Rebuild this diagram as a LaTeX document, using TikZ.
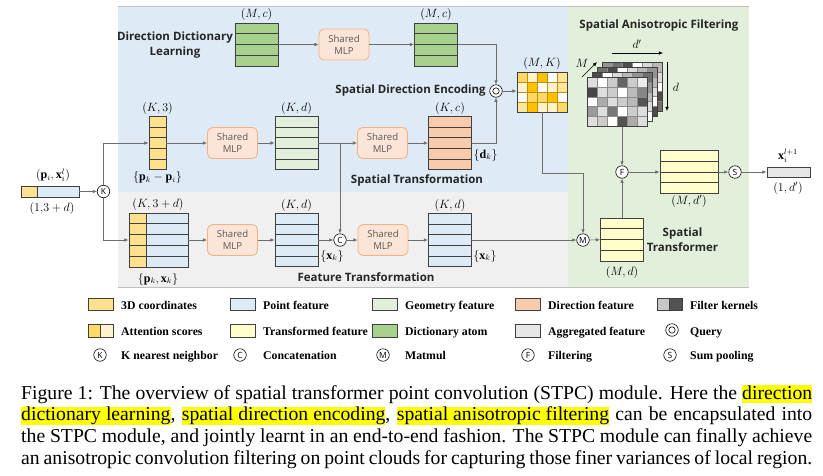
\documentclass[tikz,border=0pt]{standalone}
\usepackage{fontspec}
\setmainfont{Liberation Serif}
\newfontfamily\boxfont{Open Sans}
\usetikzlibrary{positioning, arrows.meta, calc}

\definecolor{bgblue}{HTML}{DEEAF6}
\definecolor{bggray}{HTML}{F0F0F0}
\definecolor{bggreen}{HTML}{E2EFDA}
\definecolor{framegray}{HTML}{BFBFBF}
\definecolor{coordcol}{HTML}{FFE08C}
\definecolor{pointcol}{HTML}{DDEBF7}
\definecolor{geocol}{HTML}{E2EFDA}
\definecolor{dircol}{HTML}{F8CBAD}
\definecolor{atomcol}{HTML}{A9D18E}
\definecolor{transcol}{HTML}{FFFFCC}
\definecolor{aggcol}{HTML}{E7E6E6}
\definecolor{attA}{HTML}{FFC000}
\definecolor{attB}{HTML}{FFD966}
\definecolor{attC}{HTML}{FFE699}
\definecolor{attD}{HTML}{FFF2CC}
\definecolor{attline}{HTML}{BF9000}
\definecolor{mlpfill}{HTML}{FCE4D6}
\definecolor{mlpline}{HTML}{F4B183}
\definecolor{mlptext}{HTML}{595959}
\definecolor{matline}{HTML}{404040}
\definecolor{gridline}{HTML}{8C8C8C}
\definecolor{arrowgray}{HTML}{6E6E6E}
\definecolor{titletext}{HTML}{262626}
\definecolor{hilite}{HTML}{FFFF00}

\newcommand{\hlt}[1]{{\setlength{\fboxsep}{0pt}\colorbox{hilite}{\rule[-3.6pt]{0pt}{16.8pt}#1}}}

\begin{document}
\begin{tikzpicture}[x=1pt, y=-1pt,
  conn/.style={draw=arrowgray, line width=0.7pt, -{Latex[length=4.2pt, width=3.6pt]}},
  feat/.style={draw=matline, line width=0.9pt, fill=#1, inner sep=0pt},
  rows/.style={path picture={
      \foreach \rw in {1,...,#1}
        \draw[matline, line width=0.9pt]
          ($(path picture bounding box.north west)!\rw/#1!(path picture bounding box.south west)$) --
          ($(path picture bounding box.north east)!\rw/#1!(path picture bounding box.south east)$);}},
  kmat/.style={feat=#1, rows=5, minimum width=43pt, minimum height=53.5pt},
  mmat/.style={feat=#1, rows=4, minimum width=43pt, minimum height=43pt},
  mlp/.style={draw=mlpline, fill=mlpfill, line width=0.8pt, rounded corners=5pt,
      minimum width=50pt, minimum height=31pt, inner sep=0pt, align=center,
      text=mlptext, font=\boxfont\fontsize{9.6}{12}\selectfont},
  op/.style={circle, draw=black, line width=0.6pt, fill=white, minimum size=12.5pt,
      inner sep=0pt, font=\boxfont\fontsize{8.5}{9}\selectfont},
  dims/.style={inner sep=1.5pt, font=\fontsize{12}{13}\selectfont},
  stage/.style={inner sep=0pt, align=center, text=titletext,
      font=\boxfont\bfseries\fontsize{11.5}{15}\selectfont},
  swatch/.style={draw=matline, line width=0.7pt, fill=#1, minimum width=25pt,
      minimum height=12.5pt, inner sep=0pt},
  keytext/.style={anchor=base west, inner sep=0pt, font=\bfseries\fontsize{11.8}{14}\selectfont},
]
\fill[white] (0,0) rectangle (823,475);
\useasboundingbox (0,0) rectangle (823,475);

% background regions
\fill[bgblue] (118,6) rectangle (568,192);
\fill[bggray] (118,192) rectangle (568,287);
\fill[bggreen] (568,6) rectangle (749,287);
\draw[framegray, line width=0.8pt] (118,6) -- (749,6) (118,287) -- (749,287);

% direction dictionary learning
\node[stage] (ddltitle) at (175,45.5) {Direction Dictionary\\Learning};
\node[mmat=atomcol] (atom1) at (256.5,44.5) {};
\node[mlp] (mlp1) at (344,44.5) {Shared\\MLP};
\node[mmat=atomcol] (atom2) at (436,44.5) {};
\node[dims, above=0pt of atom1] (atom1dim) {$(M,c)$};
\node[dims, above=0pt of atom2] (atom2dim) {$(M,c)$};

% spatial direction encoding
\node[op] (query) at (496,91) {};
\draw[black, line width=0.6pt] (query.center) circle (3.2pt);
\node[stage, left=3.5pt of query] (sdetitle) {Spatial Direction Encoding};
\foreach \row [count=\j from 0] in {{attB,attD,attA,white,attC},{attD,attA,white,attD,attC},
    {white,attB,attB,attA,white},{attC,attA,attD,attD,attB}}
  \foreach \c [count=\i from 0] in \row
    \draw[draw=attline, fill=\c, line width=0.7pt] (517+\i*10, 72+\j*10) rectangle ++(10,10);
\node[draw=matline, line width=0.9pt, minimum width=50pt, minimum height=40pt, inner sep=0pt] (att) at (542,92) {};
\node[dims, above=0pt of att] (attdim) {$(M,K)$};

% spatial transformation
\node[feat=coordcol, rows=5, minimum width=17pt, minimum height=53.5pt] (rel) at (157.5,143) {};
\node[mlp] (mlp2) at (232.5,143) {Shared\\MLP};
\node[kmat=geocol] (geo) at (296.5,143) {};
\node[mlp] (mlp3) at (382.5,143) {Shared\\MLP};
\node[kmat=dircol] (dir) at (450,143) {};
\node[dims, above=0pt of rel] (reldim) {$(K,3)$};
\node[dims, below=0pt of rel] (relset) {$\{\mathbf{p}_k-\mathbf{p}_i\}$};
\node[dims, above=0pt of geo] (geodim) {$(K,d)$};
\node[dims, above=0pt of dir] (dirdim) {$(K,c)$};
\node[dims, anchor=west] (dirset) at (472,155) {$\{\mathbf{d}_k\}$};
\node[stage] (sttitle) at (417,180) {Spatial Transformation};

% input point and grouping
\node[feat=coordcol, minimum width=16pt, minimum height=11pt] (incoord) at (29,191.5) {};
\node[feat=pointcol, minimum width=42pt, minimum height=11pt] (infeat) at (58,191.5) {};
\node[dims, inner sep=0pt] (indim) at (53,175.5) {$(\mathbf{p}_i,\mathbf{x}_i^l)$};
\node[dims] (insize) at (52,208.5) {$(1{,}3+d)$};
\node[op] (knn) at (103.5,191.5) {K};

% feature transformation
\node[feat=coordcol, rows=5, minimum width=17pt, minimum height=54pt] (grpcoord) at (137.5,240) {};
\node[feat=pointcol, rows=5, minimum width=42pt, minimum height=54pt] (grpfeat) at (167,240) {};
\node[dims] (grpdim) at (158,204) {$(K,3+d)$};
\node[dims] (grpset) at (158,279) {$\{\mathbf{p}_k,\mathbf{x}_k\}$};
\node[mlp] (mlp4) at (232.5,240) {Shared\\MLP};
\node[kmat=pointcol] (pf1) at (296.5,240) {};
\node[op] (cat) at (340,240) {C};
\node[mlp] (mlp5) at (383,240) {Shared\\MLP};
\node[kmat=pointcol] (pf2) at (450,240) {};
\node[dims, above=0pt of pf1] (pf1dim) {$(K,d)$};
\node[dims, above=0pt of pf2] (pf2dim) {$(K,d)$};
\node[dims] (pf1set) at (332,256) {$\{\mathbf{x}_k\}$};
\node[dims] (pf2set) at (485,256) {$\{\mathbf{x}_k\}$};
\node[stage] (fttitle) at (366,277) {Feature Transformation};

% spatial anisotropic filtering
\node[stage] (saftitle) at (659,26) {Spatial Anisotropic Filtering};
\foreach \k in {3,2,1} {
  \foreach \j in {0,...,4} {
    \foreach \i in {0,...,5} {
      \pgfmathtruncatemacro\shade{mod(7*\i+11*\j+5*\k,6)*14}
      \draw[draw=gridline, fill=black!\shade, line width=0.5pt]
        (587+5*\k+\i*10, 77-5*\k+\j*9.9) rectangle ++(10,9.9);
    }
  }
  \draw[matline, line width=0.8pt] (587+5*\k, 77-5*\k) rectangle ++(60,49.5);
}
\foreach \row [count=\j from 0] in {{13,0,20,60,20,7},{73,13,20,0,27,47},{0,33,13,20,27,67},
    {40,13,53,0,20,13},{13,20,0,67,33,13}}
  \foreach \v [count=\i from 0] in \row
    \draw[draw=gridline, fill=black!\v, line width=0.5pt] (587+\i*10, 77+\j*9.9) rectangle ++(10,9.9);
\node[draw=matline, line width=0.8pt, minimum width=60pt, minimum height=49.5pt, inner sep=0pt] (fk) at (617,101.75) {};
\coordinate (dpstart) at (612,53);
\coordinate (dpend) at (663,53);
\coordinate (dstart) at (667,62);
\coordinate (dend) at (667,111);
\coordinate (mstart) at (582,77);
\coordinate (mend) at (597,62);
\draw[conn, draw=black, line width=0.6pt] (dpstart) -- (dpend);
\draw[conn, draw=black, line width=0.6pt] (dstart) -- (dend);
\draw[conn, draw=black, line width=0.6pt] (mstart) -- (mend);
\node[dims] (dplabel) at (637,44) {$d'$};
\node[dims] (dlabel) at (676,87) {$d$};
\node[dims] (mlabel) at (582,63) {$M$};

\node[op] (flt) at (622,172) {F};
\node[op] (mm) at (583,240) {M};
\node[mmat=transcol] (tf) at (622,239.5) {};
\node[dims] (tfdim) at (622,272) {$(M,d)$};
\node[stage] (sttf) at (682.5,239.5) {Spatial\\Transformer};
\node[feat=transcol, rows=4, minimum width=58pt, minimum height=43pt] (tf2) at (689,172) {};
\node[dims] (tf2dim) at (689,201) {$(M,d')$};
\node[op] (sum) at (735,172) {S};
\node[feat=aggcol, minimum width=43pt, minimum height=10pt] (out) at (788.5,172) {};
\node[dims, inner sep=0pt] (outname) at (788,155.5) {$\mathbf{x}_i^{l+1}$};
\node[dims] (outsize) at (788,188) {$(1,d')$};

% connections
\coordinate (attbend) at (583,173);
\draw[conn] (atom1) -- (mlp1);
\draw[conn] (mlp1) -- (atom2);
\draw[conn] (atom2.east) -| (query.north);
\draw[conn] (dir.east) -| (query.south);
\draw[conn] (query) -- (query -| att.west);
\draw[conn] (att.south) |- (attbend) -- (mm.north);
\draw[conn] (infeat) -- (knn);
\draw[conn] (knn.north) |- (rel.west);
\draw[conn] (rel) -- (mlp2);
\draw[conn] (mlp2) -- (geo);
\draw[conn] (geo) -- (mlp3);
\draw[conn] (mlp3) -- (dir);
\draw[conn] (cat |- geo.east) -- (cat.north);
\draw[conn] (knn.south) |- (grpcoord.west);
\draw[conn] (grpfeat) -- (mlp4);
\draw[conn] (mlp4) -- (pf1);
\draw[conn] (pf1) -- (cat);
\draw[conn] (cat) -- (mlp5);
\draw[conn] (mlp5) -- (pf2);
\draw[conn] (pf2) -- (mm);
\draw[conn] (mm) -- (tf);
\draw[conn] (tf) -- (flt);
\draw[conn] (fk.south -| flt) -- (flt);
\draw[conn] (flt) -- (tf2);
\draw[conn] (tf2) -- (sum);
\draw[conn] (sum) -- (out);

% legend
\node[swatch=coordcol] (keycoord) at (100.5,304.5) {};
\node[keytext] (keycoordtext) at (121,309) {3D coordinates};
\node[swatch=pointcol] (keypoint) at (243,304.5) {};
\node[keytext] (keypointtext) at (263,309) {Point feature};
\node[swatch=geocol] (keygeo) at (385,304.5) {};
\node[keytext] (keygeotext) at (405,309) {Geometry feature};
\node[swatch=dircol] (keydir) at (527.5,304.5) {};
\node[keytext] (keydirtext) at (548,309) {Direction feature};
\node[swatch=black!22, minimum width=12.5pt] (keyfkA) at (663.25,304.5) {};
\node[swatch=black!68, minimum width=12.5pt] (keyfkB) at (675.75,304.5) {};
\node[keytext] (keyfktext) at (690,309) {Filter kernels};

\node[swatch=attB, minimum width=12.5pt] (keyattA) at (94.25,331) {};
\node[swatch=attD, minimum width=12.5pt] (keyattB) at (106.75,331) {};
\node[keytext] (keyatttext) at (121,335) {Attention scores};
\node[swatch=transcol] (keytrans) at (243,331) {};
\node[keytext] (keytranstext) at (263,335) {Transformed feature};
\node[swatch=atomcol] (keyatom) at (385,331) {};
\node[keytext] (keyatomtext) at (405,335) {Dictionary atom};
\node[swatch=aggcol] (keyagg) at (527.5,331) {};
\node[keytext] (keyaggtext) at (548,335) {Aggregated feature};
\node[op] (keyquery) at (672,330) {};
\draw[black, line width=0.6pt] (keyquery.center) circle (3.2pt);
\node[keytext] (keyquerytext) at (690,335) {Query};

\node[op] (keyknn) at (100,355) {K};
\node[keytext] (keyknntext) at (121,359) {K nearest neighbor};
\node[op] (keycat) at (240,355) {C};
\node[keytext] (keycattext) at (263,359) {Concatenation};
\node[op] (keymm) at (383,355) {M};
\node[keytext] (keymmtext) at (405,359) {Matmul};
\node[op] (keyflt) at (528,355) {F};
\node[keytext] (keyflttext) at (548,359) {Filtering};
\node[op] (keysum) at (670,355) {S};
\node[keytext] (keysumtext) at (690,359) {Sum pooling};

% caption
\node[anchor=north west, inner sep=0pt, align=left, font=\fontsize{19.7}{21.7}\selectfont] (caption) at (21,385) {%
\makebox[791pt][s]{Figure 1: The overview of spatial transformer point convolution (STPC) module. Here the \hlt{direction}}\\
\makebox[791pt][s]{\hlt{dictionary learning}, \hlt{spatial direction encoding}, \hlt{spatial anisotropic filtering} can be encapsulated into}\\
\makebox[791pt][s]{the STPC module, and jointly learnt in an end-to-end fashion. The STPC module can finally achieve}\\
\makebox[791pt][s]{an anisotropic convolution filtering on point clouds for capturing those finer variances of local region.}};
\end{tikzpicture}
\end{document}
